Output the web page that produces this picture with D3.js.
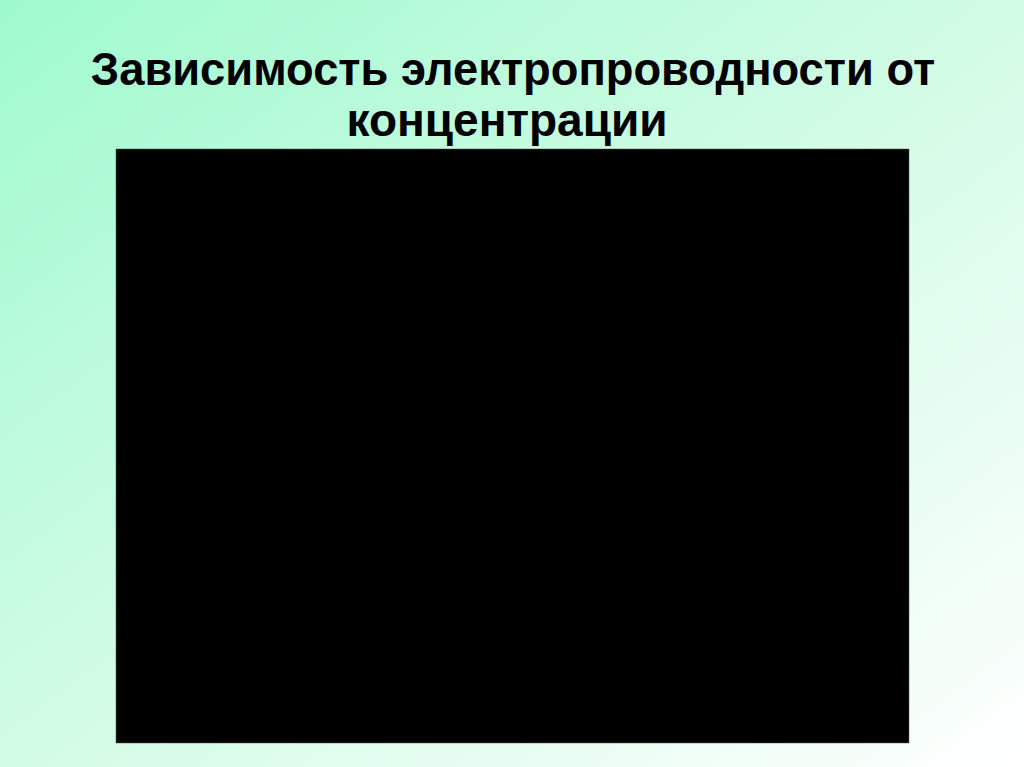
<!DOCTYPE html>
<html>
<head>
<meta charset="utf-8">
<script src="https://cdn.jsdelivr.net/npm/d3@7"></script>
<style>
  html, body { margin: 0; padding: 0; overflow: hidden; }
</style>
</head>
<body>
<div class="container"></div>
<script>
const WIDTH = 1024;
const HEIGHT = 767;

// slide title, two lines
var titleLines = ["Зависимость электропроводности от", "концентрации"];
var titleX = [513, 507];
var titleY = [85, 136];

// the chart picture itself came out as a solid black panel:
// one empty plot area spanning the whole domain, no readable series
var xDomain = [0, 1];
var yDomain = [0, 1];
var panels = [{x0: 0, x1: 1, y0: 0, y1: 1}];

var PLOT = {left: 116, right: 909, top: 149, bottom: 743};

var xScale = d3.scaleLinear().domain(xDomain).range([PLOT.left, PLOT.right]);
var yScale = d3.scaleLinear().domain(yDomain).range([PLOT.bottom, PLOT.top]);

var svg = d3.select('.container').append('svg')
  .attr('width', WIDTH)
  .attr('height', HEIGHT);

var defs = svg.append('defs');
var grad = defs.append('linearGradient')
  .attr('id', 'bg')
  .attr('x1', '0%').attr('y1', '0%')
  .attr('x2', '100%').attr('y2', '100%');
grad.append('stop').attr('offset', '0%').attr('stop-color', '#9ffacf');
grad.append('stop').attr('offset', '50%').attr('stop-color', '#d2fce6');
grad.append('stop').attr('offset', '100%').attr('stop-color', '#ffffff');

svg.append('rect')
  .attr('width', WIDTH)
  .attr('height', HEIGHT)
  .attr('fill', 'url(#bg)');

svg.selectAll('.title').data(titleLines)
  .enter().append('text')
  .classed('title', true)
  .attr('x', function (d, i) { return titleX[i]; })
  .attr('y', function (d, i) { return titleY[i]; })
  .attr('text-anchor', 'middle')
  .attr('font-family', '"Liberation Sans", Arial, sans-serif')
  .attr('font-weight', 'bold')
  .attr('font-size', function (d, i) { return i == 0 ? 45.3 : 46; })
  .attr('fill', '#000')
  .text(function (d) { return d; });

svg.selectAll('.panel').data(panels)
  .enter().append('rect')
  .classed('panel', true)
  .attr('x', function (d) { return xScale(d.x0); })
  .attr('y', function (d) { return yScale(d.y1); })
  .attr('width', function (d) { return xScale(d.x1) - xScale(d.x0); })
  .attr('height', function (d) { return yScale(d.y0) - yScale(d.y1); })
  .attr('fill', '#000')
  .attr('stroke', '#555')
  .attr('stroke-width', 0.5);
</script>
</body>
</html>
